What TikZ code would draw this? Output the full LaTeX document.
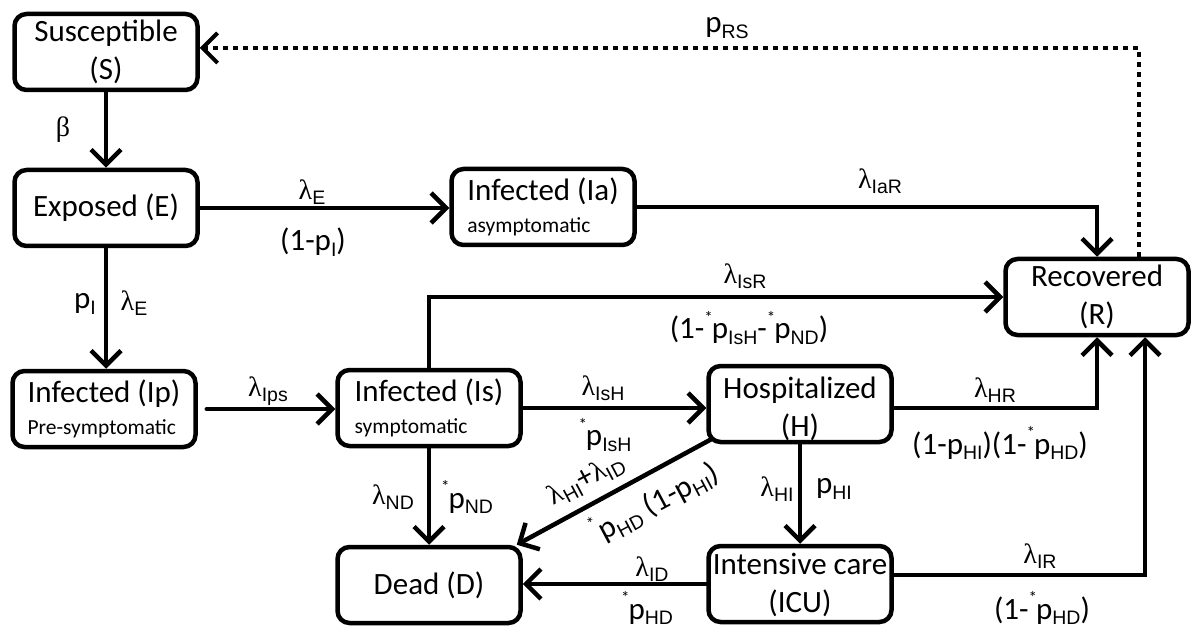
\documentclass[tikz,border=0pt]{standalone}
\usepackage{fontspec}
\setmainfont{Carlito}
\newfontfamily\subfont{Liberation Sans}
\newfontfamily\grk{Liberation Serif}
\usetikzlibrary{arrows.meta}
\newcommand{\subs}[1]{\raisebox{-5.5pt}{\fontsize{19.5}{19.5}\subfont #1}}
\newcommand{\lam}{{\fontsize{28}{28}\grk λ}}
\newcommand{\pstar}{\raisebox{0.5em}{\fontsize{17}{17}\selectfont *}\kern-1pt}
\newcommand{\boxtext}[2]{\raisebox{#1}[\height][\depth]{\begin{tabular}{@{}c@{}}#2\end{tabular}}}
\newcommand{\smalltxt}[1]{{\fontsize{21.5}{22}\selectfont #1}}
\begin{document}
\begin{tikzpicture}[x=1pt,y=-1pt,
  box/.style={draw, line width=4.5pt, rounded corners=12pt, minimum width=183pt, minimum height=76pt, inner sep=0pt, align=center, font=\fontsize{31}{38}\selectfont},
  lbox/.style={box, align=left},
  arr/.style={line width=4.5pt, -{Straight Barb[length=15pt,width=30pt]}, line cap=round},
  dotarr/.style={arr, dash pattern=on 5pt off 5pt, line cap=butt, line width=4pt},
  lbl/.style={font=\fontsize{31}{38}\selectfont, inner sep=0pt}]
\useasboundingbox[fill=white] (0,0) rectangle (1191,628);

\node[box] (S) at (106,52) {Susceptible\\(S)};
\node[box] (E) at (106,208) {Exposed (E)};
\node[lbox] (Ip) at (104,409) {Infected (Ip)\\[-6pt]\smalltxt{Pre-symptomatic}};
\node[lbox] (Ia) at (543,207) {Infected (Ia)\\[-6pt]\smalltxt{asymptomatic}};
\node[box] (R) at (1097,297) {Recovered\\(R)};
\node[lbox] (Is) at (429,408) {Infected (Is)\\[-6pt]\smalltxt{symptomatic}};
\node[box] (H) at (800,404) {\boxtext{-6pt}{Hospitalized\\(H)}};
\node[box] (ICU) at (800,584) {\boxtext{-2pt}{Intensive care\\(ICU)}};
\node[box] (D) at (429,585) {Dead (D)};

\coordinate (RT) at ([xshift=42pt]R.north);
\coordinate (RB) at ([xshift=48pt]R.south);
\coordinate (ST) at ([yshift=4pt]S.east);

\draw[arr] (S) -- (E);
\draw[arr] (E.east) -- (Ia.west |- E.east);
\draw[arr] (E.south) -- (E.south |- Ip.north);
\draw[arr] ([xshift=9pt]Ip.east) -- (Is.west |- Ip.east);
\draw[arr] (Ia.east) -| (R.north);
\draw[arr] (Is.north) |- (R.west);
\draw[arr] (Is.east) -- (H.west |- Is.east);
\draw[arr] (H.east |- Is.east) -| (R.south);
\draw[arr] ([shift={(5,-5)}]H.south west) -- ([xshift=-6pt]D.north east);
\draw[arr] (H.south) -- (ICU.north);
\draw[arr] (ICU.west) -- (D.east |- ICU.west);
\draw[arr] ([yshift=9pt]ICU.east) -| (RB);
\draw[arr] (D.north |- Is.south) -- (D.north);
\draw[dotarr] (RT) |- (ST);

\node[lbl] (lb) at (63,130) {{\fontsize{28}{28}\grk β}};
\node[lbl] (l1) at (312,192) {\lam\subs{E}};
\node[lbl] (l2) at (313,242) {(1-p\subs{I})};
\node[lbl] (l3) at (85,304) {p\subs{I}};
\node[lbl] (l4) at (134,303) {\lam\subs{E}};
\node[lbl] (l5) at (268,391) {\lam\subs{Ips}};
\node[lbl] (l6) at (880,181) {\lam\subs{IaR}};
\node[lbl] (l7) at (727,28) {p\subs{RS}};
\node[lbl] (l8) at (745,276) {\lam\subs{IsR}};
\node[lbl] (l9) at (749,328) {(1-\pstar p\subs{IsH}-\pstar p\subs{ND})};
\node[lbl] (l10) at (603,388) {\lam\subs{IsH}};
\node[lbl] (l11) at (605,435) {\pstar p\subs{IsH}};
\node[lbl] (l12) at (393,497) {\lam\subs{ND}};
\node[lbl] (l13) at (467,497) {\pstar p\subs{ND}};
\node[lbl,rotate=28] (l14) at (586,480) {\lam\subs{HI}+\lam\subs{ID}};
\node[lbl,rotate=28] (l15) at (654,502) {\pstar p\subs{HD} (1-p\subs{HI})};
\node[lbl] (l16) at (652,569) {\lam\subs{ID}};
\node[lbl] (l17) at (647,608) {\pstar p\subs{HD}};
\node[lbl] (l18) at (995,390) {\lam\subs{HR}};
\node[lbl] (l19) at (1000,443) {(1-p\subs{HI})(1-\pstar p\subs{HD})};
\node[lbl] (l20) at (777,489) {\lam\subs{HI}};
\node[lbl] (l21) at (834,489) {p\subs{HI}};
\node[lbl] (l22) at (1040,556) {\lam\subs{IR}};
\node[lbl] (l23) at (1042,608) {(1-\pstar p\subs{HD})};
\end{tikzpicture}
\end{document}
